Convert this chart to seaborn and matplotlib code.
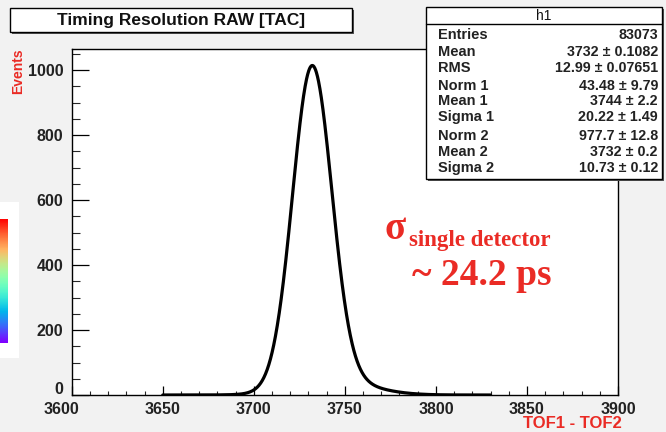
import numpy as np
import pandas as pd
import matplotlib
matplotlib.use("Agg")
import matplotlib.pyplot as plt
import matplotlib.transforms as mtrans
from matplotlib.patches import Rectangle
import seaborn as sns

# ---- data (fit parameters of the double gaussian, stats box) ----
hist_name = "h1"
title = "Timing Resolution RAW [TAC]"
stat_labels = ["Entries", "Mean", "RMS", "Norm 1", "Mean 1", "Sigma 1", "Norm 2", "Mean 2", "Sigma 2"]
stat_values = ["83073", "3732 ± 0.1082", "12.99 ± 0.07651", "43.48 ± 9.79", "3744 ± 2.2",
               "20.22 ± 1.49", "977.7 ± 12.8", "3732 ± 0.2", "10.73 ± 0.12"]
norm1, mean1, sigma1 = 43.48, 3744.0, 20.22
norm2, mean2, sigma2 = 977.7, 3732.0, 10.73
fit_range = [3650, 3830]
x_ticks = [3600, 3650, 3700, 3750, 3800, 3850, 3900]
y_ticks = [0, 200, 400, 600, 800, 1000]

# fit function evaluated from the parameters above
xs = np.linspace(fit_range[0], fit_range[1], 1200)
ys = (norm1 * np.exp(-0.5 * ((xs - mean1) / sigma1) ** 2)
      + norm2 * np.exp(-0.5 * ((xs - mean2) / sigma2) ** 2))
df = pd.DataFrame({"tof": xs, "events": ys})

sns.set_style("ticks")
plt.rcParams["font.family"] = ["Liberation Sans", "DejaVu Sans"]

W, H = 666, 432
fig = plt.figure(figsize=(W / 100, H / 100), dpi=100)
fig.patch.set_facecolor("#f2f2f2")


def px(x, y):
    return x / W, 1 - y / H


ax_l, ax_r, ax_t, ax_b = 71.7, 618, 49, 395
ax = fig.add_axes([ax_l / W, 1 - ax_b / H, (ax_r - ax_l) / W, (ax_b - ax_t) / H])
ax.set_facecolor("white")

sns.lineplot(data=df, x="tof", y="events", ax=ax, color="black", linewidth=2.3)

ax.set_xlim(3600, 3900)
ax.set_ylim(0, 1065)
ax.set_xticks(x_ticks)
ax.set_yticks(y_ticks)
ax.set_xticks(np.arange(3600, 3901, 10), minor=True)
ax.set_yticks(np.arange(0, 1061, 50), minor=True)
ax.set_xlabel("")
ax.set_ylabel("")
for s in ax.spines.values():
    s.set_color("black")
    s.set_linewidth(1.0)
ax.tick_params(axis="x", which="major", direction="in", length=6.5, width=0.9,
               labelsize=11.5, pad=5, colors="black")
ax.tick_params(axis="x", which="minor", direction="in", length=3.2, width=0.8)
ax.tick_params(axis="y", which="major", direction="in", length=12, width=0.9,
               labelsize=11.5, pad=6, colors="black")
ax.tick_params(axis="y", which="minor", direction="in", length=5.8, width=0.8)
fig.canvas.draw()
for lab in ax.get_xticklabels() + ax.get_yticklabels():
    lab.set_fontweight("bold")
    lab.set_color("#222222")
# ROOT-style: the "0" sits a bit above the axis, "3600" slightly to the left
ylabs = ax.get_yticklabels()
ylabs[0].set_transform(ylabs[0].get_transform() +
                       mtrans.ScaledTranslation(0, 7 / 100, fig.dpi_scale_trans))
xlabs = ax.get_xticklabels()
xlabs[0].set_transform(xlabs[0].get_transform() +
                       mtrans.ScaledTranslation(-10 / 100, 0, fig.dpi_scale_trans))

# axis titles (ROOT style)
red = "#ea2b25"
fig.text(*px(18, 48), "Events", rotation=90, ha="center", va="top",
         color=red, fontsize=10, fontweight="bold")
fig.text(*px(622, 423), "TOF1 - TOF2", ha="right", va="center",
         color=red, fontsize=12, fontweight="bold")

# title box with shadow
fig.patches.append(Rectangle(px(12, 34), 342 / W, 24 / H, transform=fig.transFigure,
                             facecolor="#555555", edgecolor="none", zorder=5))
fig.patches.append(Rectangle(px(10, 32), 342 / W, 24 / H, transform=fig.transFigure,
                             facecolor="white", edgecolor="black", linewidth=1.0, zorder=6))
fig.text(*px(181, 20.5), title, ha="center", va="center", fontsize=12.5,
         fontweight="bold", color="#111111", zorder=7)

# stats box with shadow
bx0, by0, bx1, by1 = 426, 7, 662, 179
fig.patches.append(Rectangle(px(bx0 + 2, by1 + 2), (bx1 - bx0) / W, (by1 - by0) / H,
                             transform=fig.transFigure, facecolor="#555555",
                             edgecolor="none", zorder=5))
fig.patches.append(Rectangle(px(bx0, by1), (bx1 - bx0) / W, (by1 - by0) / H,
                             transform=fig.transFigure, facecolor="white",
                             edgecolor="black", linewidth=1.0, zorder=6))
fig.lines.append(plt.Line2D([bx0 / W, bx1 / W], [1 - 24 / H, 1 - 24 / H],
                            transform=fig.transFigure, color="black", linewidth=1.0, zorder=7))
fig.text(*px((bx0 + bx1) / 2, 15.5), hist_name, ha="center", va="center",
         fontsize=10, color="#111111", zorder=8)
row_y = [35, 52, 68, 86, 101, 117, 136, 152, 168]
for yy, lab, val in zip(row_y, stat_labels, stat_values):
    fig.text(*px(438, yy), lab, ha="left", va="center", fontsize=10.5,
             fontweight="bold", color="#222222", zorder=8)
    fig.text(*px(658, yy), val, ha="right", va="center", fontsize=10.3,
             fontweight="bold", color="#222222", zorder=8)

# annotation
serif = ["Liberation Serif", "DejaVu Serif"]
fig.text(*px(384, 239), "σ", ha="left", va="baseline", color=red,
         fontsize=28, family=serif, fontweight="bold")
fig.text(*px(409, 246), "single detector", ha="left", va="baseline", color=red,
         fontsize=16.5, family=serif, fontweight="bold")
fig.text(*px(412, 285), "~ 24.2 ps", ha="left", va="baseline", color=red,
         fontsize=27, family=serif, fontweight="bold")

# cropped colour palette fragment at the left edge
fig.patches.append(Rectangle(px(0, 358), 19 / W, 156 / H, transform=fig.transFigure,
                             facecolor="white", edgecolor="none", zorder=1))
cax = fig.add_axes([0, 1 - 343 / H, 7 / W, 124 / H])
cax.set_zorder(3)
cax.imshow(np.linspace(0, 1, 100).reshape(-1, 1), aspect="auto", cmap="rainbow",
           origin="lower")
cax.set_axis_off()

fig.savefig("out.png", dpi=100, facecolor=fig.get_facecolor())
